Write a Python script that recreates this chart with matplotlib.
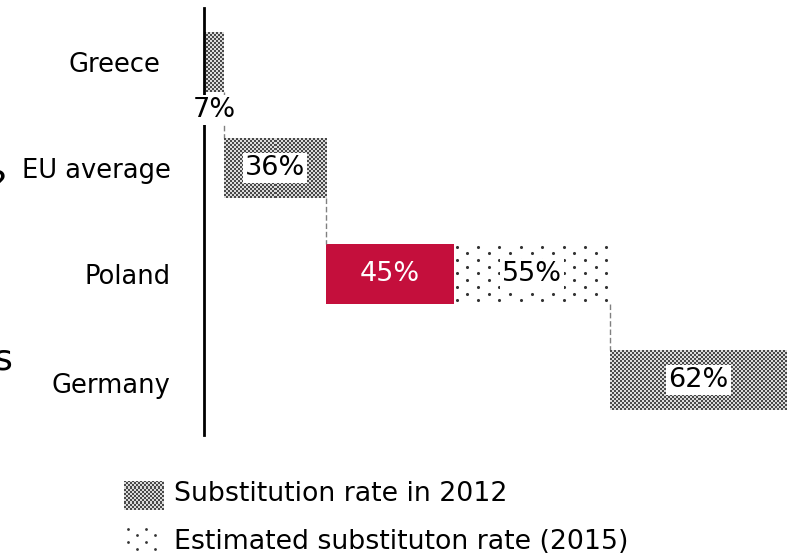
import matplotlib
matplotlib.use("Agg")
from matplotlib import pyplot as plt
from matplotlib.transforms import ScaledTranslation
import numpy as np

plt.rcParams['font.family'] = ['DejaVu Sans']

countries = ["Greece", "EU average", "Poland", "Germany"]
rate_2012 = [7, 36, 45, 62]
rate_2015 = [0, 0, 55, 0]   # estimate, only Poland
labels_2012 = ["7%", "36%", "45%", "62%"]
labels_2015 = ["", "", "55%", ""]
legend_labels = ["Substitution rate in 2012", "Estimated substituton rate (2015)"]

red = "#c40f3c"
W, H = 792, 556

fig = plt.figure(figsize=(W / 100, H / 100), dpi=100)
ax = fig.add_axes([204 / W, 1 - 435 / H, 586 / W, 427 / H])
xlim = (0, 206.3)
ylim = (3.52, -0.51)
px_x = 586 / (xlim[1] - xlim[0])        # pixels per x unit
px_y = 427 / abs(ylim[0] - ylim[1])     # pixels per y unit

y = np.arange(len(countries))
h = 0.565


def checker(w_px, h_px, cell=2):
    nr, nc = max(1, int(round(h_px / cell))), max(1, int(round(w_px / cell)))
    return np.indices((nr, nc)).sum(0) % 2


def checker_fill(a, x0, x1, y0, y1, w_px, h_px):
    a.imshow(checker(w_px, h_px), extent=(x0, x1, y1, y0), cmap="gray",
             vmin=-0.5, vmax=1.25, interpolation="nearest", aspect="auto", zorder=2)


def dot_fill(a, x0, x1, y0, y1, sx, sy, s=5):
    # staggered dot grid, spacing given in data units
    xs, ys = [], []
    for k, xx in enumerate(np.arange(x0 + sx * 0.25, x1, sx)):
        off = 0 if k % 2 == 0 else sy / 2
        for yy in np.arange(y0 + sy * 0.2 + off, y1, sy):
            xs.append(xx)
            ys.append(yy)
    a.scatter(xs, ys, s=s, marker="o", color="#333333", linewidths=0, zorder=2)


# waterfall: each bar starts where the previous one ended
starts_2012, starts_2015 = [], []
pos = 0
for v12, v15 in zip(rate_2012, rate_2015):
    starts_2012.append(pos)
    pos += v12
    starts_2015.append(pos)
    pos += v15

for i, c in enumerate(countries):
    x0, x1 = starts_2012[i], starts_2012[i] + rate_2012[i]
    if c == "Poland":
        ax.barh(y[i], rate_2012[i], left=x0, height=h, color=red, linewidth=0)
    else:
        checker_fill(ax, x0, x1, y[i] - h / 2, y[i] + h / 2,
                     rate_2012[i] * px_x, h * px_y)
    if rate_2015[i] > 0:
        dot_fill(ax, starts_2015[i], starts_2015[i] + rate_2015[i],
                 y[i] - h / 2, y[i] + h / 2, 10.7 / px_x, 13.4 / px_y)

# dashed connectors
ends = [s + a + b for s, a, b in zip(starts_2012, rate_2012, rate_2015)]
for i in range(len(countries) - 1):
    ax.plot([ends[i], ends[i]], [y[i] + h / 2, y[i + 1] - h / 2], ls=(0, (4, 2)),
            color="#808080", lw=1, zorder=1)

box = dict(facecolor="white", edgecolor="none", pad=1.5)
for i, c in enumerate(countries):
    cx = starts_2012[i] + rate_2012[i] / 2
    if c == "Greece":
        ax.text(cx, y[i] + h / 2 + 0.17, labels_2012[i], ha="center", va="center",
                fontsize=19.5, bbox=box, zorder=5)
    elif c == "Poland":
        ax.text(cx, y[i], labels_2012[i], ha="center", va="center", fontsize=19.5,
                color="white", zorder=5)
    else:
        ax.text(cx, y[i], labels_2012[i], ha="center", va="center", fontsize=19.5,
                bbox=box, zorder=5)
    if labels_2015[i]:
        ax.text(starts_2015[i] + rate_2015[i] / 2, y[i], labels_2015[i], ha="center",
                va="center", fontsize=19.5, bbox=box, zorder=5)

ax.set_xlim(*xlim)
ax.set_ylim(*ylim)
ax.set_yticks(y)
ax.set_yticklabels(countries, fontsize=18.5)
ax.tick_params(axis="y", length=0, pad=24)
ax.set_xticks([])
for s in ["top", "right", "bottom"]:
    ax.spines[s].set_visible(False)
ax.spines["left"].set_linewidth(2)
ax.spines["left"].set_zorder(3)

# small nudges of the category labels as in the original
ticklabs = ax.get_yticklabels()
ticklabs[0].set_transform(ticklabs[0].get_transform() +
                          ScaledTranslation(-0.10, 0, fig.dpi_scale_trans))
ticklabs[3].set_transform(ticklabs[3].get_transform() +
                          ScaledTranslation(0, -0.03, fig.dpi_scale_trans))

# legend drawn by hand so the fills match the bars
lg1 = fig.add_axes([124 / W, 1 - 510 / H, 39 / W, 29 / H])
checker_fill(lg1, 0, 1, 0, 1, 39, 29)
lg1.set_xlim(0, 1)
lg1.set_ylim(1, 0)
lg1.axis("off")
lg2 = fig.add_axes([126 / W, 1 - 553 / H, 36 / W, 27 / H])
dot_fill(lg2, 0, 1, 0, 1, 9 / 36, 13.4 / 27, s=4)
lg2.set_xlim(0, 1)
lg2.set_ylim(1, 0)
lg2.axis("off")
fig.text(174 / W, 1 - 494 / H, legend_labels[0], ha="left", va="center", fontsize=19.3)
fig.text(174 / W, 1 - 542 / H, legend_labels[1], ha="left", va="center", fontsize=19.3)

# fragments of neighbouring text cut by the crop
fig.text(7 / W, 1 - 186 / H, "?", ha="right", va="center", fontsize=26)
fig.text(13 / W, 1 - 360 / H, "s", ha="right", va="center", fontsize=26)

fig.savefig("out.png", dpi=100)
